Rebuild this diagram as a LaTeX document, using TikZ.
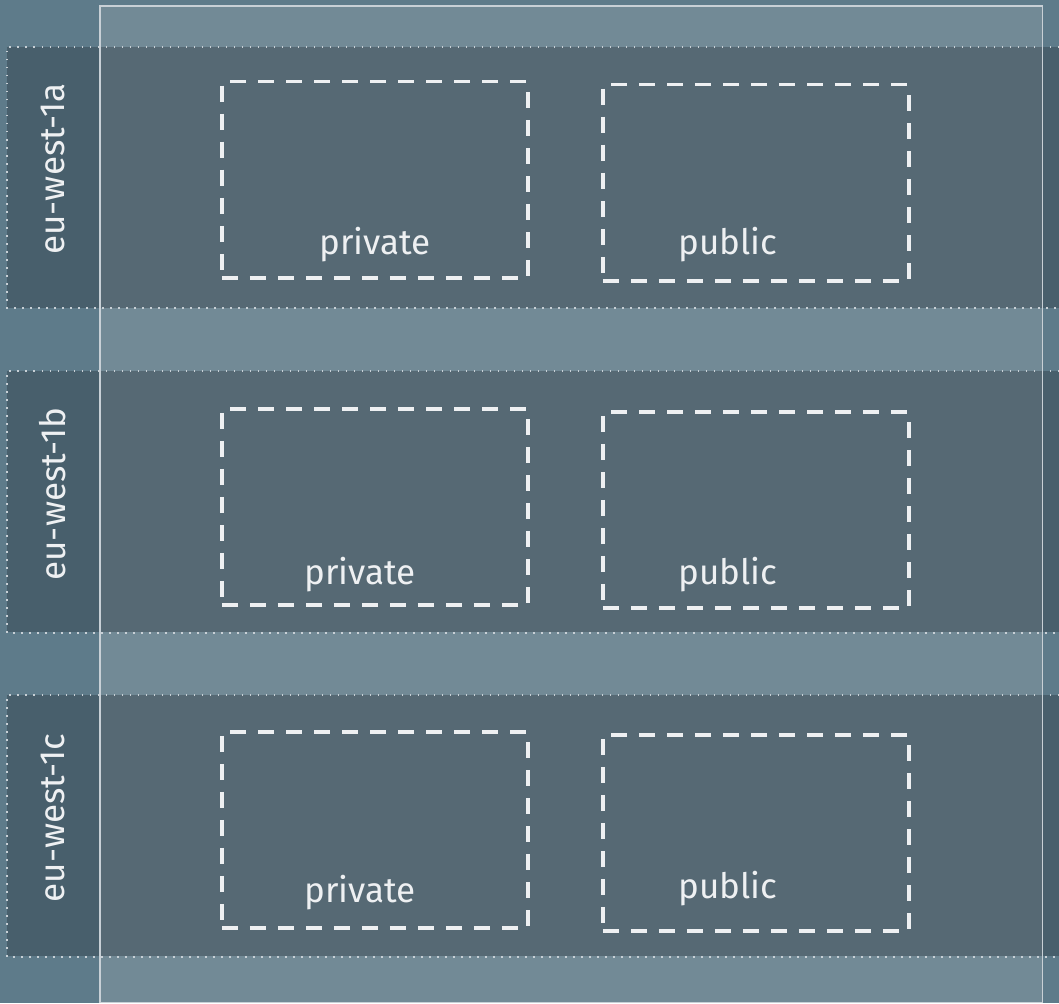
\documentclass[tikz,border=0pt]{standalone}
\usepackage{fontspec}
\setmainfont{Fira Sans}
\usepackage{tikz}
\usepackage{xcolor}
\usetikzlibrary{positioning, calc, backgrounds}
\definecolor{cBack}{RGB}{94,123,138}
\definecolor{cVpc}{RGB}{114,138,150}
\definecolor{cBand}{RGB}{30,40,48}
\definecolor{cLine}{RGB}{238,240,242}
\definecolor{cDots}{RGB}{200,208,214}
\tikzset{
    vpc/.style     ={rectangle, fill=cVpc, anchor=north west, inner sep=0pt},
    azband/.style  ={rectangle, fill=cBand, fill opacity=0.33, anchor=north west, inner sep=0pt, minimum width=1060pt, minimum height=261pt},
    azedge/.style  ={draw=cDots, line width=1.5pt, dash pattern=on 1.5pt off 6.5pt},
    azname/.style  ={rotate=90, text=cLine, font=\fontsize{35}{40}\selectfont},
    subnet/.style  ={rectangle, draw=cLine, line width=3.5pt, dash pattern=on 16pt off 12pt, anchor=north west, inner sep=0pt, minimum width=306pt, minimum height=196pt},
    subtext/.style ={text=cLine, font=\fontsize{35}{40}\selectfont, anchor=base},
}

\begin{document}
\begin{tikzpicture}[x=1pt, y=-1pt]
        \useasboundingbox (0,0) rectangle (1059,1003);
        \fill[cBack] (0,0) rectangle (1059,1003);
        % vpc
        \node[vpc, minimum width=942pt, minimum height=996pt] (vpc) at (100,6) {};

        % availability zones
        \node[azband] (az1) at (7,47) {};
        \node[azband] (az2) at (7,371) {};
        \node[azband] (az3) at (7,695) {};
        \draw[azedge] (1059,47) -| (7,308) -- (1059,308);
        \draw[azedge] (1059,371) -| (7,633) -- (1059,633);
        \draw[azedge] (1059,695) -| (7,957) -- (1059,957);
        \draw[draw=cDots, line width=1.5pt] (vpc.north west) rectangle (vpc.south east);

        \node[azname] (n1) at (53,169) {eu-west-1a};
        \node[azname] (n2) at (53,494) {eu-west-1b};
        \node[azname] (n3) at (53,818) {eu-west-1c};

        % subnets, zone a
        \node[subnet] (priv1) at (220,80) {};
        \node[subnet] (pub1) at (601,83) {};
        \node[subtext] (privt1) at (375,254) {private};
        \node[subtext] (pubt1) at (728,254) {public};
        % subnets, zone b
        \node[subnet] (priv2) at (220,407) {};
        \node[subnet] (pub2) at (601,410) {};
        \node[subtext] (privt2) at (360,584) {private};
        \node[subtext] (pubt2) at (728,584) {public};
        % subnets, zone c
        \node[subnet] (priv3) at (220,730) {};
        \node[subnet] (pub3) at (601,733) {};
        \node[subtext] (privt3) at (360,902) {private};
        \node[subtext] (pubt3) at (728,898) {public};
    \end{tikzpicture}
\end{document}
